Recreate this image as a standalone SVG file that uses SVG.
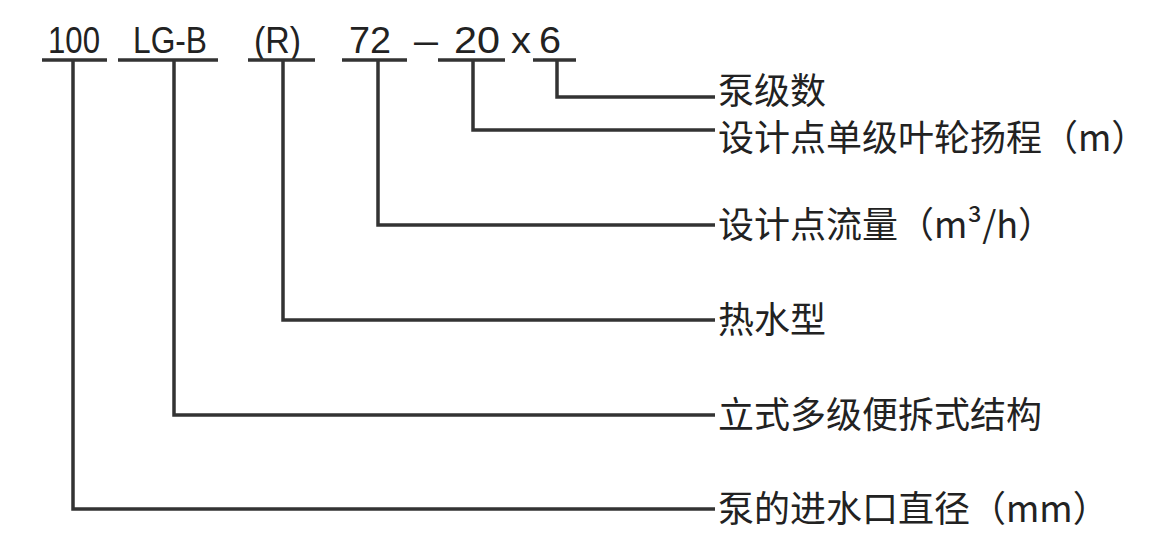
<svg xmlns="http://www.w3.org/2000/svg" width="1163" height="554" viewBox="0 0 1163 554">
<style>
.c{font-family:"Liberation Sans","Noto Sans CJK SC",sans-serif;font-size:36px;fill:#222}
.l{font-family:"Noto Sans CJK SC",sans-serif;font-size:36px;fill:#222}
.k{fill:none;stroke:#333;stroke-width:3.5}
</style>
<rect width="1163" height="554" fill="#fff"/>
<g id="code">
<text class="c" x="48" y="53" textLength="52" lengthAdjust="spacingAndGlyphs">100</text>
<text class="c" x="133" y="53" textLength="74" lengthAdjust="spacingAndGlyphs">LG-B</text>
<text class="c" x="254" y="53" textLength="47" lengthAdjust="spacingAndGlyphs">(R)</text>
<text class="c" x="349" y="53" textLength="42" lengthAdjust="spacingAndGlyphs">72</text>
<text class="c" x="414" y="53" textLength="24" lengthAdjust="spacingAndGlyphs">–</text>
<text class="c" x="454" y="53" textLength="46" lengthAdjust="spacingAndGlyphs">20</text>
<text class="c" x="511" y="53" textLength="20" lengthAdjust="spacingAndGlyphs">x</text>
<text class="c" x="539" y="53" textLength="22" lengthAdjust="spacingAndGlyphs">6</text>
</g>
<g id="connectors" class="k">
<path d="M42 60H107M118 60H218M248 60H315M342 60H407M438 60H505M533 60H576"/>
<path d="M557 60V97H715"/>
<path d="M473 60V130H715"/>
<path d="M378 60V225H715"/>
<path d="M283 60V320H715"/>
<path d="M174 60V415H715"/>
<path d="M73 60V509H715"/>
</g>
<g id="n1"><text class="l" x="718" y="104">泵级数</text></g>
<g id="n2"><text class="l" x="718" y="151">设计点单级叶轮扬程（m）</text></g>
<g id="n3"><text class="l" x="718" y="238">设计点流量（m³/h）</text></g>
<g id="n4"><text class="l" x="718" y="333">热水型</text></g>
<g id="n5"><text class="l" x="718" y="428">立式多级便拆式结构</text></g>
<g id="n6"><text class="l" x="718" y="522">泵的进水口直径（mm）</text></g>
</svg>
